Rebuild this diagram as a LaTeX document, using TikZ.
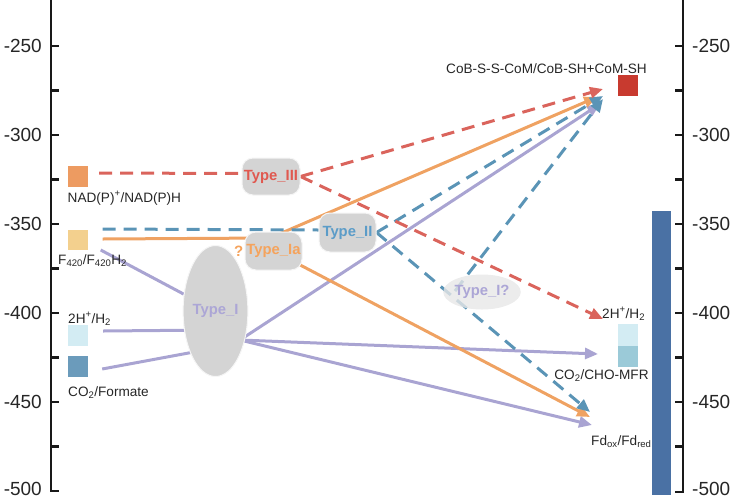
\documentclass[tikz,border=0pt]{standalone}
\usepackage{fontspec}
\setmainfont{Liberation Sans}
\usetikzlibrary{arrows.meta,shapes.geometric}
\pgfdeclarelayer{bg}
\pgfsetlayers{bg,main}
\definecolor{cred}{HTML}{DA645C}
\definecolor{cblue}{HTML}{5A94B6}
\definecolor{corange}{HTML}{EFA262}
\definecolor{cpurple}{HTML}{A9A4D2}
\definecolor{cgray}{HTML}{D4D4D4}
\definecolor{tred}{HTML}{E0584F}
\definecolor{tblue}{HTML}{5B9CC8}
\definecolor{torange}{HTML}{F5A35C}
\definecolor{tpurple}{HTML}{ACA6D6}
\definecolor{sqorange}{HTML}{ED9B61}
\definecolor{sqyellow}{HTML}{F3D08E}
\definecolor{sqlight}{HTML}{D3ECF3}
\definecolor{sqdark}{HTML}{6B9BBB}
\definecolor{sqred}{HTML}{C83A2F}
\definecolor{sqmid}{HTML}{9BCAD8}
\definecolor{barblue}{HTML}{4A71A4}
\begin{document}
\begin{tikzpicture}[x=1pt,y=-1pt,
  axis/.style={line width=2.4pt,black!90},
  axlab/.style={font=\fontsize{19}{19}\selectfont,inner sep=0pt,text=black!85},
  lab/.style={font=\fontsize{13.6}{14}\selectfont,inner sep=0pt,text=black!85},
  sqbox/.style={minimum width=20pt,minimum height=21pt,inner sep=0pt,draw=none},
  typefont/.style={font=\bfseries\fontsize{14.8}{15}\selectfont},
  typebox/.style={rounded corners=11pt,fill=cgray,draw=white!92!gray,line width=1pt,
    minimum width=57pt,minimum height=38pt,inner sep=0pt,typefont},
  tipx/.style={-{Triangle[length=13pt,width=11pt]}},
  rdash/.style={draw=cred,line width=3pt,dash pattern=on 13pt off 8pt},
  bdash/.style={draw=cblue,line width=3pt,dash pattern=on 13pt off 8pt},
  oline/.style={draw=corange,line width=3pt},
  pline/.style={draw=cpurple,line width=3pt}]
\useasboundingbox (0,0) rectangle (735,498);

% axes
\draw[axis] (51,0) -- (51,491) -- (58.5,491);
\foreach \yy in {46,90.5,135,179.5,224,268.5,313,357.5,402,446.5}
  \draw[axis] (51,\yy) -- (58.5,\yy);
\draw[axis] (683,0) -- (683,492) -- (675,492);
\foreach \yy in {46,90.5,135,179.5,224,268.5,313,357.5,402,446.5}
  \draw[axis] (683,\yy) -- (675,\yy);
\foreach \yy/\vv in {46/-250,135/-300,224/-350,313/-400,402/-450,488.5/-500}{
  \node[axlab,anchor=east] at (42,\yy) {\vv};
  \node[axlab,anchor=west] at (692,\yy) {\vv};
}

% bar
\node[fill=barblue,minimum width=19pt,minimum height=284pt,inner sep=0pt] (bar) at (661.5,353) {};

% squares
\node[sqbox,fill=sqorange] (sqNAD) at (78,176.5) {};
\node[sqbox,fill=sqyellow,minimum height=20pt] (sqF) at (77.5,240) {};
\node[sqbox,fill=sqlight] (sqH) at (78,335.5) {};
\node[sqbox,fill=sqdark] (sqCO) at (78,366.5) {};
\node[sqbox,fill=sqred] (sqCoB) at (628,85.5) {};
\node[sqbox,fill=sqlight,minimum height=22pt] (sqMt) at (628,335) {};
\node[sqbox,fill=sqmid] (sqMb) at (628,356.5) {};

% labels
\node[lab,anchor=base west] (lNAD) at (67.5,202) {NAD(P)\textsuperscript{+}/NAD(P)H};
\node[lab,anchor=base west] (lF) at (58,264) {F\textsubscript{420}/F\textsubscript{420}H\textsubscript{2}};
\node[lab,anchor=base west] (lH) at (68,323) {2H\textsuperscript{+}/H\textsubscript{2}};
\node[lab,anchor=base west] (lCO) at (68,396) {CO\textsubscript{2}/Formate};
\node[lab,anchor=base] (lCoB) at (546.5,73) {CoB-S-S-CoM/CoB-SH+CoM-SH};
\node[lab,anchor=base west] (lH2) at (602,318) {2H\textsuperscript{+}/H\textsubscript{2}};
\node[lab,anchor=base] (lM) at (601.5,379) {CO\textsubscript{2}/CHO-MFR};
\node[lab,anchor=base west] (lFd) at (591,445) {Fd\textsubscript{ox}/Fd\textsubscript{red}};

% type nodes
\node[typebox,text=tred,minimum width=58pt,minimum height=37pt] (t3) at (271,176.5) {Type\_III};
\node[typebox,text=tblue,minimum height=39pt] (t2) at (347.5,232.5) {Type\_II};
\node[typebox,text=torange,label={[text=torange,font=\bfseries\fontsize{15}{15}\selectfont,inner sep=1pt]left:?}] (t1a) at (273.5,251) {Type\_Ia};
\node[ellipse,fill=cgray,draw=white!92!gray,line width=1pt,minimum width=56pt,minimum height=131pt,inner sep=0pt,
  text=tpurple,typefont] (t1) at (215.5,311) {Type\_I};
\node[ellipse,fill=cgray!55,fill opacity=0.8,text opacity=1,minimum width=62pt,minimum height=35pt,inner sep=0pt,
  text=tpurple,typefont] (t1q) at (482,292) {Type\_I?};

% arrow end points
\coordinate (cobR) at (603,89);
\coordinate (cobO) at (597,97);
\coordinate (cobB) at (603,96);
\coordinate (cobB2) at (603,99);
\coordinate (cobP) at (600,104);
\coordinate (h2R) at (603,319);
\coordinate (mfrP) at (598,354);
\coordinate (fdB) at (590,412);
\coordinate (fdO) at (590,417);
\coordinate (fdP) at (592,425);
\coordinate (okink) at (270,238);
\coordinate (t1o) at (240,340);
\coordinate (t1qo) at (455,291);

\begin{pgfonlayer}{bg}
  % purple
  \draw[pline] ([xshift=13pt,yshift=-10pt]sqF.east) -- (t1);
  \draw[pline] ([xshift=15pt,yshift=4.5pt]sqH.east) -- ([yshift=-19pt]t1.center);
  \draw[pline] ([xshift=14pt,yshift=-2.5pt]sqCO.east) -- ([yshift=-37pt]t1.center);
  \draw[pline,tipx] (t1o) -- (cobP);
  \draw[pline,tipx] (t1o) -- (mfrP);
  \draw[pline,tipx] (t1o) -- (fdP);
  % orange
  \draw[oline,tipx] ([xshift=15pt,yshift=1pt]sqF.east) -- (okink) -- (cobO);
  \draw[oline,tipx] (t1a.center) -- (fdO);
  % blue
  \draw[bdash] ([xshift=15pt,yshift=11pt]sqF.east) -- ([yshift=2.5pt]t2.west);
  \draw[bdash,tipx] (t2.east) -- (cobB);
  \draw[bdash,tipx] (t2.east) -- (fdB);
  \draw[bdash,tipx] (t1qo) -- (cobB2);
  % red
  \draw[rdash] ([xshift=11pt,yshift=3.5pt]sqNAD.east) -- ([yshift=3pt]t3.west);
  \draw[rdash,tipx] (t3.east) -- (cobR);
  \draw[rdash,tipx] (t3.east) -- (h2R);
\end{pgfonlayer}
\end{tikzpicture}
\end{document}
